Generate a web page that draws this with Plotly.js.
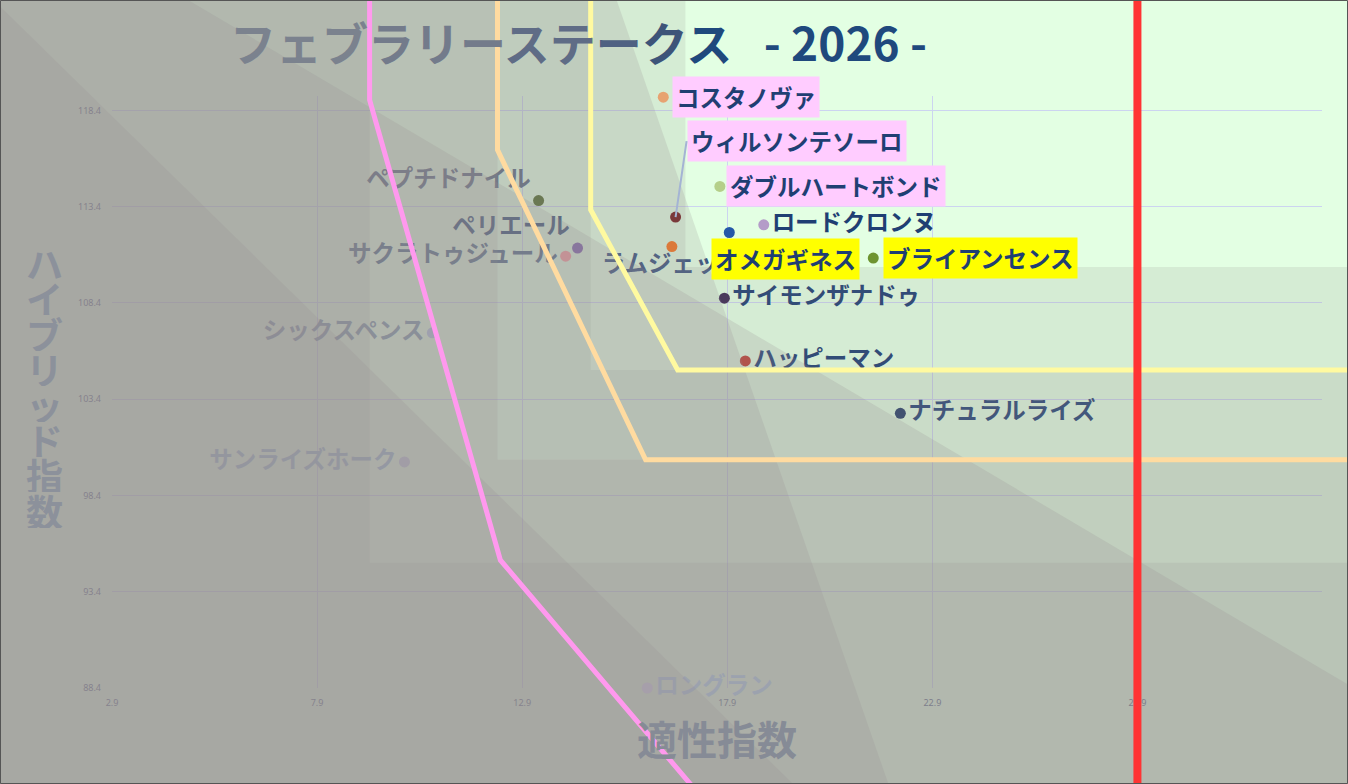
<!DOCTYPE html>
<html>
<head>
<meta charset="utf-8">
<script src="https://cdn.plot.ly/plotly-3.0.1.min.js"></script>
<style>
  html, body { margin: 0; padding: 0; background: #e3ffe3; }
  #chart { width: 1348px; height: 784px; }
</style>
</head>
<body>
<div id="chart"></div>
<script>
// 馬名と指数
const horses = ['コスタノヴァ', 'ウィルソンテソーロ', 'ダブルハートボンド', 'ロードクロンヌ', 'オメガギネス',
  'ラムジェット', 'ブライアンセンス', 'サイモンザナドゥ', 'ハッピーマン', 'ナチュラルライズ',
  'ペプチドナイル', 'ペリエール', 'サクラトゥジュール', 'シックスペンス', 'サンライズホーク', 'ロングラン'];
const tekisei = [16.34, 16.64, 17.72, 18.79, 17.95, 16.55, 21.46, 17.83, 18.34, 22.12,
  13.30, 14.25, 13.96, 10.71, 10.03, 15.95];
const hybrid = [119.09, 112.86, 114.45, 112.46, 112.06, 111.33, 110.73, 108.65, 105.39, 102.67,
  113.72, 111.25, 110.83, 106.85, 100.14, 88.4];
const pointColors = ['#f8a86c', '#6e1010', '#b5cf8a', '#b49cc8', '#2458a8', '#ff7010', '#6e9430',
  '#3c2a52', '#c0392b', '#1f3864', '#4a6823', '#7a5cb0', '#ff9ca0', '#b4c6e7', '#c0c8e0', '#dcdcff'];
const labelColors = ['#1f3f73', '#1f3f73', '#1f3f73', '#1f3f73', '#1f3f73', '#34507c', '#1f3f73',
  '#1f3f73', '#1f3f73', '#1f3f73', '#53677f', '#2f4d75', '#4c6a88', '#7995aa', '#97b9d2', '#b0d8f8'];
const pinkNames = ['コスタノヴァ', 'ウィルソンテソーロ', 'ダブルハートボンド'];
const yellowNames = ['オメガギネス', 'ブライアンセンス'];

// 軸目盛
const xTicks = [2.9, 7.9, 12.9, 17.9, 22.9, 27.9];
const xTickText = ['2.9', '7.9', '12.9', '17.9', '22.9', '27.9'];
const yTicks = [88.4, 93.4, 98.4, 103.4, 108.4, 113.4, 118.4];
const yTickText = ['88.4', '93.4', '98.4', '103.4', '108.4', '113.4', '118.4'];

// 基準線 (適性指数, ハイブリッド指数)
const pinkLineX = [9.18, 9.18, 12.37, 18.0];
const pinkLineY = [125, 118.95, 95.04, 80.9];
const orangeLineX = [12.3, 12.3, 15.91, 40];
const orangeLineY = [125, 116.35, 100.25, 100.25];
const yellowLineX = [14.57, 14.57, 16.69, 40];
const yellowLineY = [125, 113.24, 104.92, 104.92];
const redLineX = 27.9;

// 背景の帯 (この値より左 または 下を暗くする)
const bandX = [16.88, 14.57, 12.3, 9.18];
const bandY = [110.27, 104.92, 100.25, 94.9];

const xr = [2.9, 32.4];
const yr = [88.4, 119.15];
const px = v => (v - xr[0]) / (xr[1] - xr[0]);
const py = v => (v - yr[0]) / (yr[1] - yr[0]);
const path = (xs, ys, close) =>
  'M ' + xs.map((x, i) => px(x).toFixed(4) + ',' + py(ys[i]).toFixed(4)).join(' L ') + (close ? ' Z' : '');

const shade = 'rgba(150,140,145,0.17)';
const ray = 'rgba(150,140,145,0.2)';
const shapes = [];

bandX.forEach((tx, i) => {
  const ty = bandY[i];
  shapes.push({
    type: 'path', xref: 'paper', yref: 'paper', layer: 'above',
    path: path([-5, tx, tx, 40, 40, -5], [130, 130, ty, ty, 75, 75], true),
    fillcolor: shade, line: { width: 0 }
  });
});

// 斜めの光の帯
const rays = [
  { xs: [-5, 40, 40, -5], ys: [136.4, 79.82, 75, 75] },
  { xs: [14.25, 22.71, -5, -5], ys: [130, 78, 78, 130] },
  { xs: [0.18, 19.68, -5, -5], ys: [123.78, 83.05, 83.05, 123.78] }
];
rays.forEach(r => shapes.push({
  type: 'path', xref: 'paper', yref: 'paper', layer: 'above',
  path: path(r.xs, r.ys, true), fillcolor: ray, line: { width: 0 }
}));

[[pinkLineX, pinkLineY, '#ff99ee'], [orangeLineX, orangeLineY, '#ffdba0'], [yellowLineX, yellowLineY, '#fffaa0']]
  .forEach(([xs, ys, c]) => shapes.push({
    type: 'path', xref: 'paper', yref: 'paper', layer: 'above',
    path: path(xs, ys, false), line: { color: c, width: 5 }
  }));

shapes.push({
  type: 'line', xref: 'paper', yref: 'paper', layer: 'above',
  x0: px(redLineX), x1: px(redLineX), y0: py(80), y1: py(130),
  line: { color: '#ff3333', width: 8 }
});

// 外枠
const fx = p => (p - 112) / 1210;
const fy = p => (688 - p) / 592;
shapes.push({
  type: 'rect', xref: 'paper', yref: 'paper', layer: 'above',
  x0: fx(0.5), x1: fx(1347.5), y0: fy(0.5), y1: fy(783.5),
  line: { color: '#555555', width: 1 }
});

// ラベル
const plainNames = horses.map(h => (pinkNames.includes(h) || yellowNames.includes(h)) ? '' : h);
const labelPos = ['middle right', 'middle right', 'middle right', 'middle right', 'middle right',
  'bottom center', 'middle right', 'middle right', 'middle right', 'middle right',
  'top left', 'top left', 'middle left', 'middle left', 'middle left', 'middle right'];

const labelFont = { family: 'Noto Sans CJK JP', size: 23.5, color: '#1f3f73', weight: 'bold' };

const boxStyle = {
  'コスタノヴァ': { xanchor: 'left', yanchor: 'middle', xshift: 9, yshift: 0 },
  'ダブルハートボンド': { xanchor: 'left', yanchor: 'middle', xshift: 6, yshift: 0 },
  'オメガギネス': { xanchor: 'center', yanchor: 'top', xshift: 56, yshift: -5 },
  'ブライアンセンス': { xanchor: 'left', yanchor: 'middle', xshift: 10, yshift: 0 }
};

const annotations = [];
horses.forEach((h, i) => {
  const isPink = pinkNames.includes(h);
  if (!isPink && !yellowNames.includes(h)) return;
  const a = {
    x: tekisei[i], y: hybrid[i], xref: 'x', yref: 'y', text: h,
    font: labelFont, bgcolor: isPink ? '#ffccff' : '#ffff00', borderpad: 3
  };
  if (h === 'ウィルソンテソーロ') {
    Object.assign(a, { showarrow: true, arrowhead: 0, arrowwidth: 2, arrowcolor: '#a4b4d4',
      ax: 11, ay: -76, xanchor: 'left', yanchor: 'middle' });
  } else {
    Object.assign(a, { showarrow: false }, boxStyle[h]);
  }
  annotations.push(a);
});

// 縦書きの軸タイトル
const yTitle = 'ハイブリッド指数';
[...yTitle].forEach((c, i) => annotations.push({
  xref: 'paper', yref: 'paper', x: fx(44), y: fy(262 + i * 35.5),
  text: c, showarrow: false, xanchor: 'center', yanchor: 'middle', height: 35,
  font: { family: 'Noto Sans CJK JP', size: 37, color: '#8c919b', weight: 'bold' }
}));

const trace = {
  x: tekisei, y: hybrid, text: plainNames, type: 'scatter', mode: 'markers+text',
  textposition: labelPos, textfont: Object.assign({}, labelFont, { color: labelColors }),
  cliponaxis: false,
  marker: { size: 11, color: pointColors },
  hoverinfo: 'skip'
};

const title = '<span style="color:#7b828e">フェブ</span><span style="color:#737b8b">ラリー</span>' +
  '<span style="color:#5f6c86">ステ</span><span style="color:#4f6182">ー</span>' +
  '<span style="color:#3d5479">ク</span><span style="color:#1f497d">ス&nbsp;&nbsp;&nbsp;- 2026 -</span>';

const layout = {
  width: 1348, height: 784,
  margin: { l: 112, r: 26, t: 96, b: 96 },
  paper_bgcolor: '#e3ffe3', plot_bgcolor: '#e3ffe3',
  showlegend: false,
  title: {
    text: title, x: 230 / 1348, xanchor: 'left', y: 0.943, yanchor: 'middle',
    font: { family: 'Noto Sans CJK JP', size: 46, weight: 'bold', color: '#1f497d' }
  },
  xaxis: {
    range: xr, tickvals: xTicks, ticktext: xTickText, showgrid: true, gridcolor: '#ccd4f0',
    zeroline: false, showline: false, ticks: '', ticklabelstandoff: 8,
    tickfont: { family: 'Noto Sans', size: 9, color: '#5a6a88' },
    title: { text: '適性指数', standoff: 12,
      font: { family: 'Noto Sans CJK JP', size: 40, color: '#868b96', weight: 'bold' } }
  },
  yaxis: {
    range: yr, tickvals: yTicks, ticktext: yTickText, showgrid: true, gridcolor: '#ccd4f0',
    zeroline: false, showline: false, ticks: '', ticklabelstandoff: 10,
    tickfont: { family: 'Noto Sans', size: 9, color: '#5a6a88' }
  },
  shapes: shapes,
  annotations: annotations
};

Plotly.newPlot('chart', [trace], layout, { displayModeBar: false, staticPlot: true });
</script>
</body>
</html>
